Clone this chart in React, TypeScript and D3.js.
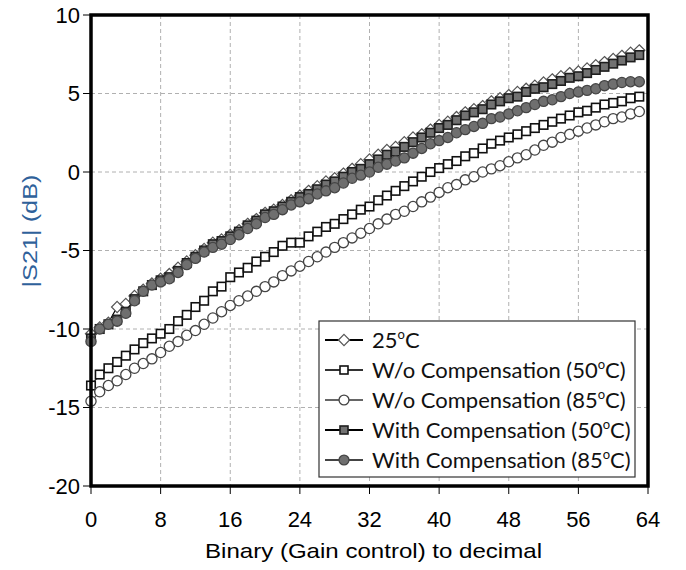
import React from "react";
import * as d3 from "d3";

const xIdx: number[] = Array.from({ length: 64 }, (_, i) => i);

const s25C: number[] = [-10.3, -9.9, -9.6, -8.6, -8.4, -7.9, -7.5, -7.1, -6.8, -6.5, -6.1, -5.7, -5.3, -4.9, -4.5, -4.3, -4.0, -3.7, -3.3, -3.0, -2.6, -2.4, -2.1, -1.8, -1.5, -1.2, -0.9, -0.6, -0.4, -0.1, 0.2, 0.5, 0.8, 1.1, 1.4, 1.6, 1.9, 2.2, 2.4, 2.7, 3.0, 3.2, 3.5, 3.8, 4.0, 4.2, 4.5, 4.7, 4.9, 5.1, 5.3, 5.5, 5.7, 5.9, 6.1, 6.3, 6.4, 6.6, 6.8, 7.0, 7.2, 7.4, 7.6, 7.75];
const woComp50: number[] = [-13.6, -12.9, -12.5, -12.1, -11.7, -11.3, -10.9, -10.6, -10.3, -10.0, -9.5, -9.1, -8.6, -8.2, -7.6, -7.3, -6.7, -6.4, -6.1, -5.7, -5.4, -5.1, -4.7, -4.5, -4.5, -4.1, -3.8, -3.5, -3.3, -3.0, -2.7, -2.4, -2.2, -1.8, -1.5, -1.2, -0.9, -0.6, -0.3, 0.0, 0.25, 0.5, 0.7, 1.0, 1.2, 1.5, 1.8, 2.0, 2.2, 2.4, 2.6, 2.8, 3.0, 3.2, 3.4, 3.6, 3.8, 3.9, 4.1, 4.3, 4.4, 4.5, 4.7, 4.8];
const woComp85: number[] = [-14.6, -14.0, -13.6, -13.3, -12.9, -12.5, -12.2, -11.9, -11.5, -11.1, -10.8, -10.4, -10.1, -9.7, -9.3, -8.9, -8.5, -8.2, -7.9, -7.6, -7.3, -7.0, -6.6, -6.3, -6.0, -5.7, -5.4, -5.1, -4.8, -4.5, -4.2, -3.9, -3.6, -3.3, -3.0, -2.7, -2.5, -2.2, -1.9, -1.6, -1.3, -1.0, -0.8, -0.5, -0.3, 0.0, 0.2, 0.4, 0.65, 0.9, 1.1, 1.4, 1.7, 1.9, 2.2, 2.4, 2.6, 2.8, 3.0, 3.2, 3.4, 3.5, 3.7, 3.85];
const withComp50: number[] = [-10.6, -10.0, -9.7, -9.4, -8.9, -8.1, -7.6, -7.2, -6.9, -6.7, -6.3, -5.8, -5.4, -5.0, -4.6, -4.4, -4.1, -3.8, -3.4, -3.1, -2.7, -2.5, -2.2, -1.9, -1.6, -1.4, -1.1, -0.8, -0.6, -0.3, 0.0, 0.2, 0.5, 0.8, 1.1, 1.3, 1.6, 1.9, 2.2, 2.5, 2.8, 3.0, 3.3, 3.6, 3.8, 4.0, 4.3, 4.5, 4.7, 4.8, 5.1, 5.3, 5.4, 5.6, 5.8, 6.0, 6.1, 6.3, 6.5, 6.7, 6.9, 7.1, 7.3, 7.45];
const withComp85: number[] = [-10.8, -10.0, -9.7, -9.5, -9.0, -8.2, -7.6, -7.2, -7.0, -6.8, -6.4, -5.9, -5.5, -5.1, -4.8, -4.6, -4.3, -4.0, -3.6, -3.3, -2.9, -2.7, -2.4, -2.1, -1.9, -1.7, -1.4, -1.2, -1.0, -0.7, -0.4, -0.2, 0.0, 0.3, 0.5, 0.7, 0.9, 1.2, 1.5, 1.8, 2.0, 2.2, 2.5, 2.7, 2.9, 3.1, 3.4, 3.5, 3.7, 3.9, 4.1, 4.3, 4.5, 4.6, 4.8, 5.0, 5.1, 5.2, 5.3, 5.5, 5.6, 5.7, 5.75, 5.75];

const xTicks: number[] = [0, 8, 16, 24, 32, 40, 48, 56, 64];
const yTicks: number[] = [-20, -15, -10, -5, 0, 5, 10];

type Shape = "diamond" | "square" | "circle";
interface Series {
  name: string;
  temp: string;
  values: number[];
  shape: Shape;
  fill: string;
  stroke: string;
  line: string;
}

const seriesList: Series[] = [
  { name: "", temp: "25", values: s25C, shape: "diamond", fill: "#ffffff", stroke: "#555555", line: "#000000" },
  { name: "W/o Compensation ", temp: "50", values: woComp50, shape: "square", fill: "#ffffff", stroke: "#111111", line: "#333333" },
  { name: "W/o Compensation ", temp: "85", values: woComp85, shape: "circle", fill: "#ffffff", stroke: "#444444", line: "#666666" },
  { name: "With Compensation ", temp: "50", values: withComp50, shape: "square", fill: "#727272", stroke: "#1e1e1e", line: "#000000" },
  { name: "With Compensation ", temp: "85", values: withComp85, shape: "circle", fill: "#6f6f6f", stroke: "#454545", line: "#444444" },
];

const drawOrder = [0, 1, 2, 3, 4];

function Marker({ shape, x, y, fill, stroke, size }: { shape: Shape; x: number; y: number; fill: string; stroke: string; size: number }) {
  if (shape === "circle") {
    return <circle cx={x} cy={y} r={size * 0.62} fill={fill} stroke={stroke} strokeWidth={1.3} />;
  }
  if (shape === "square") {
    const h = size * 0.5;
    return <rect x={x - h} y={y - h} width={2 * h} height={2 * h} fill={fill} stroke={stroke} strokeWidth={1.6} />;
  }
  const h = size * 0.62;
  return <path d={`M${x},${y - h}L${x + h},${y}L${x},${y + h}L${x - h},${y}Z`} fill={fill} stroke={stroke} strokeWidth={1.2} />;
}

export default function App() {
  const W = 686, H = 570;
  const left = 91, right = 648, top = 15, bottom = 486;
  const x = d3.scaleLinear().domain([0, 64]).range([left, right]);
  const y = d3.scaleLinear().domain([-20, 10]).range([bottom, top]);
  const line = d3.line<number>().x((_, i) => x(xIdx[i])).y((d) => y(d));

  const legX = 319, legY = 321, legW = 316, legH = 156;
  const tickFont = "'Liberation Sans', Arial, sans-serif";
  const legFont = "Lato, 'Open Sans', sans-serif";

  return (
    <svg width={W} height={H} style={{ position: "absolute", left: 0, top: 0, background: "#fff" }}>
      {/* grid */}
      {xTicks.slice(1, -1).map((t) => (
        <line key={"gx" + t} x1={x(t)} x2={x(t)} y1={top} y2={bottom} stroke="#b0b0b0" strokeWidth={1} strokeDasharray="4,3" />
      ))}
      {yTicks.slice(1, -1).map((t) => (
        <line key={"gy" + t} x1={left} x2={right} y1={y(t)} y2={y(t)} stroke="#b0b0b0" strokeWidth={1} strokeDasharray="4,3" />
      ))}
      {/* series */}
      {drawOrder.map((si) => {
        const s = seriesList[si];
        return (
          <g key={"s" + si}>
            <path d={line(s.values) || ""} fill="none" stroke={s.line} strokeWidth={1.2} />
            {s.values.map((v, i) => (
              <Marker key={i} shape={s.shape} x={x(xIdx[i])} y={y(v)} fill={s.fill} stroke={s.stroke} size={s.shape === "circle" ? 8.2 : s.shape === "square" ? 8.5 : 9} />
            ))}
          </g>
        );
      })}
      {/* frame */}
      <rect x={left} y={top} width={right - left} height={bottom - top} fill="none" stroke="#000" strokeWidth={3.5} />
      {/* ticks */}
      {yTicks.map((t) => (
        <g key={"yt" + t}>
          <line x1={left - 8} x2={left} y1={y(t)} y2={y(t)} stroke="#000" strokeWidth={1} />
          <text x={left - 11} y={y(t)} dy="0.36em" textAnchor="end" fontFamily={tickFont} fontSize={22} fill="#000">{t}</text>
        </g>
      ))}
      {xTicks.map((t) => (
        <g key={"xt" + t}>
          <line x1={x(t)} x2={x(t)} y1={bottom} y2={bottom + 8} stroke="#000" strokeWidth={1} />
          <text x={x(t)} y={527} textAnchor="middle" fontFamily={tickFont} fontSize={22} fill="#000">{t}</text>
        </g>
      ))}
      <text x={205} y={558} textLength={337} lengthAdjust="spacingAndGlyphs" fontFamily={tickFont} fontSize={21} fill="#000">Binary (Gain control) to decimal</text>
      <text transform={`translate(37,231) rotate(-90)`} textAnchor="middle" textLength={113} lengthAdjust="spacingAndGlyphs" fontFamily={tickFont} fontSize={20} fill="#2f619a">|S21| (dB)</text>
      {/* legend */}
      <rect x={legX} y={legY} width={legW} height={legH} fill="#fff" stroke="#333" strokeWidth={1.2} />
      {seriesList.map((s, i) => {
        const cy = legY + 19 + i * 30;
        return (
          <g key={"lg" + i}>
            <line x1={legX + 6} x2={legX + 44} y1={cy} y2={cy} stroke={s.line} strokeWidth={2} />
            <Marker shape={s.shape} x={legX + 25} y={cy} fill={s.fill} stroke={s.stroke} size={s.shape === "circle" ? 8 : s.shape === "square" ? 8 : 9} />
            <text x={legX + 53} y={cy + 8} fontFamily={legFont} fontSize={22} fill="#111">
              {s.name + (s.name ? "(" : "") + s.temp}
              <tspan dy={-9} fontSize={13}>o</tspan>
              <tspan dy={9}>{"C" + (s.name ? ")" : "")}</tspan>
            </text>
          </g>
        );
      })}
    </svg>
  );
}
